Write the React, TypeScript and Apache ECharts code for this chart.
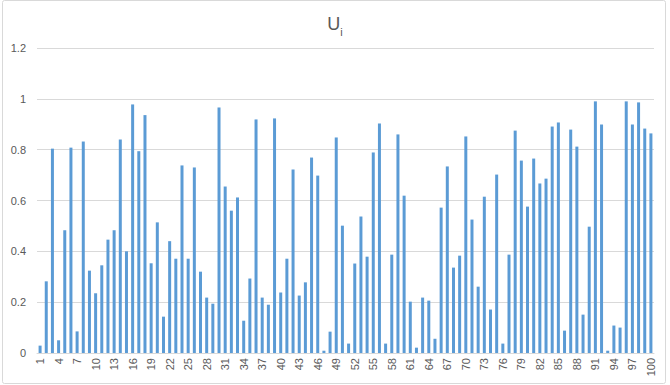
import React, { useEffect, useRef } from "react";
import * as echarts from "echarts";

const categories: string[] = Array.from({ length: 100 }, (_, i) => String(i + 1));

const values: number[] = [
  0.029, 0.282, 0.804, 0.05, 0.483, 0.808, 0.085, 0.832, 0.324, 0.235,
  0.345, 0.446, 0.483, 0.84, 0.4, 0.978, 0.794, 0.936, 0.353, 0.514,
  0.143, 0.44, 0.371, 0.738, 0.371, 0.73, 0.32, 0.218, 0.194, 0.966,
  0.655, 0.56, 0.612, 0.127, 0.293, 0.919, 0.218, 0.19, 0.923, 0.238,
  0.371, 0.722, 0.226, 0.278, 0.769, 0.698, 0.009, 0.084, 0.848, 0.501,
  0.037, 0.352, 0.537, 0.379, 0.789, 0.903, 0.037, 0.387, 0.86, 0.619,
  0.202, 0.021, 0.218, 0.206, 0.056, 0.572, 0.734, 0.336, 0.383, 0.852,
  0.525, 0.261, 0.615, 0.171, 0.702, 0.037, 0.387, 0.875, 0.757, 0.576,
  0.765, 0.667, 0.686, 0.891, 0.907, 0.088, 0.879, 0.812, 0.151, 0.497,
  0.99, 0.899, 0.009, 0.108, 0.1, 0.99, 0.899, 0.986, 0.883, 0.864,
];

const FONT = "Liberation Sans";
const TEXT = "#595959";

export default function App() {
  const ref = useRef<HTMLDivElement>(null);
  useEffect(() => {
    if (!ref.current) return;
    const chart = echarts.init(ref.current, undefined, { renderer: "svg" });
    chart.setOption({
      animation: false,
      backgroundColor: "#ffffff",
      title: {
        text: "{u|U}{i|i}",
        left: "center",
        top: 2,
        textStyle: {
          rich: {
            u: { fontFamily: FONT, fontSize: 18, color: TEXT, fontWeight: "normal", lineHeight: 26, verticalAlign: "bottom" },
            i: { fontFamily: FONT, fontSize: 11, color: TEXT, fontWeight: "normal", lineHeight: 18, verticalAlign: "bottom", padding: [0, 0, -4, 0] },
          },
        },
      },
      graphic: [
        {
          type: "rect",
          shape: { x: 2.5, y: 0.5, width: 663, height: 383, r: 2 },
          style: { fill: "none", stroke: "#d9d9d9", lineWidth: 1 },
          silent: true,
        },
      ],
      grid: { left: 37, right: 16, top: 48, bottom: 32, containLabel: false },
      xAxis: {
        type: "category",
        data: categories,
        axisLine: { show: true, lineStyle: { color: "#d9d9d9" } },
        axisTick: { show: false },
        axisLabel: {
          interval: 2,
          rotate: 90,
          margin: 5,
          color: TEXT,
          fontFamily: FONT,
          fontSize: 11,
        },
      },
      yAxis: {
        type: "value",
        min: 0,
        max: 1.2,
        interval: 0.2,
        axisLine: { show: false },
        axisTick: { show: false },
        splitLine: { lineStyle: { color: "#d9d9d9" } },
        axisLabel: {
          margin: 11,
          color: TEXT,
          fontFamily: FONT,
          fontSize: 11,
          formatter: (v: number) => String(Math.round(v * 10) / 10),
        },
      },
      series: [
        {
          type: "bar",
          data: values,
          barWidth: 3,
          itemStyle: { color: "#5b9bd5" },
        },
      ],
    });
    return () => chart.dispose();
  }, []);
  return (
    <div
      ref={ref}
      style={{ position: "fixed", left: 0, top: 0, width: 670, height: 385 }}
    />
  );
}
